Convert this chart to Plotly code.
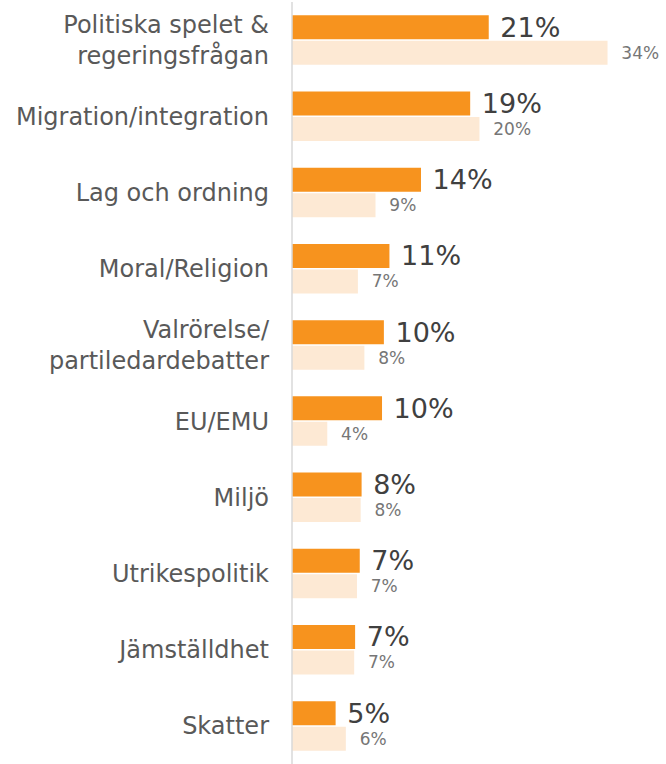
import plotly.graph_objects as go

categories = ["Politiska spelet &<br>regeringsfrågan", "Migration/integration", "Lag och ordning",
              "Moral/Religion", "Valrörelse/<br>partiledardebatter", "EU/EMU", "Miljö",
              "Utrikespolitik", "Jämställdhet", "Skatter"]
series_a = [21.2, 19.2, 13.9, 10.5, 9.9, 9.7, 7.5, 7.3, 6.8, 4.7]
labels_a = ["21%", "19%", "14%", "11%", "10%", "10%", "8%", "7%", "7%", "5%"]
series_b = [34.0, 20.2, 9.0, 7.1, 7.8, 3.8, 7.4, 7.0, 6.7, 5.8]
labels_b = ["34%", "20%", "9%", "7%", "8%", "4%", "8%", "7%", "7%", "6%"]

fig = go.Figure()
fig.add_trace(go.Bar(y=categories, x=series_a, orientation="h", name="A",
                     marker=dict(color="#F7931E", line=dict(width=0)),
                     text=[" " + t for t in labels_a], textposition="outside",
                     constraintext="none",
                     textfont=dict(size=27, color="#404040", family="DejaVu Sans"),
                     cliponaxis=False))
fig.add_trace(go.Bar(y=categories, x=series_b, orientation="h", name="B",
                     marker=dict(color="#FDE9D4", line=dict(width=0)),
                     text=["  " + t for t in labels_b], textposition="outside",
                     constraintext="none",
                     textfont=dict(size=17, color="#767676", family="DejaVu Sans"),
                     cliponaxis=False))

fig.update_layout(
    width=666, height=764,
    margin=dict(l=292, r=0, t=2, b=0, autoexpand=False),
    paper_bgcolor="white", plot_bgcolor="white",
    barmode="group", bargap=0.33, bargroupgap=0.06,
    showlegend=False,
    uniformtext=dict(mode=False),
    font=dict(family="DejaVu Sans"),
)
fig.update_yaxes(autorange="reversed", showgrid=False, zeroline=False,
                 showline=False, ticks="", ticklabelstandoff=22, automargin=False,
                 tickfont=dict(size=24, color="#595959", family="DejaVu Sans"))
fig.update_xaxes(range=[0, 40.3], visible=False, automargin=False)
fig.add_shape(type="line", xref="paper", yref="paper", x0=0, x1=0, y0=0, y1=1,
              line=dict(color="#D9D9D9", width=1.5))

fig.write_html("out.html", config={"displayModeBar": False, "staticPlot": True},
               post_script="document.body.style.margin='0';document.body.style.overflow='hidden';")
